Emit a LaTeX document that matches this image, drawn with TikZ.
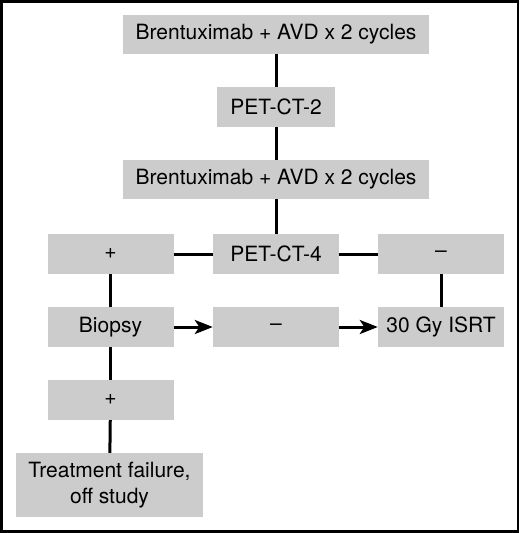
\documentclass[tikz,border=0pt]{standalone}
\usepackage{fontspec}
\setmainfont{TeX Gyre Heros}
\usetikzlibrary{arrows.meta}
\definecolor{boxgray}{RGB}{204,204,204}
\begin{document}
\begin{tikzpicture}[x=1pt,y=-1pt,
  box/.style={fill=boxgray,draw=none,inner sep=0pt,align=center,
    font=\fontsize{21}{25.5}\selectfont},
  wide/.style={box,minimum width=306pt,minimum height=39pt},
  mid/.style={box,minimum width=126pt,minimum height=40pt},
  conn/.style={line width=3pt},
  arr/.style={conn,-{Stealth[length=18pt,width=14pt,inset=4.5pt]}}]
\useasboundingbox (0,0) rectangle (520,533);
\draw[line width=2.8pt] (1.5,1.5) rectangle (518,531.5);
\node[wide] (b1) at (276,34.5) {Brentuximab + AVD x 2 cycles};
\node[box,minimum width=118pt,minimum height=40pt] (pet2) at (276,107) {PET-CT-2};
\node[wide] (b3) at (276,179.5) {Brentuximab + AVD x 2 cycles};
\node[mid] (plus1) at (110.5,254) {+};
\node[mid] (pet4) at (276,254) {PET-CT-4};
\node[mid] (minus1) at (441,254) {–};
\node[mid] (biopsy) at (110.5,327) {Biopsy};
\node[mid] (minus2) at (276,327) {–};
\node[mid] (isrt) at (441,327) {30 Gy ISRT};
\node[mid] (plus2) at (110.5,400) {+};
\node[box,minimum width=187pt,minimum height=64pt] (tf) at (109.5,485) {Treatment failure,\\off study};
\draw[conn] (b1) -- (pet2);
\draw[conn] (pet2) -- (b3);
\draw[conn] (b3) -- (pet4);
\draw[conn] (pet4) -- (plus1);
\draw[conn] (pet4) -- (minus1);
\draw[conn] (minus1) -- (isrt);
\draw[conn] (plus1) -- (biopsy);
\draw[conn] (biopsy) -- (plus2);
\draw[conn] (plus2) -- (tf);
\draw[arr] (biopsy) -- (minus2);
\draw[arr] (minus2) -- (isrt);
\end{tikzpicture}
\end{document}
